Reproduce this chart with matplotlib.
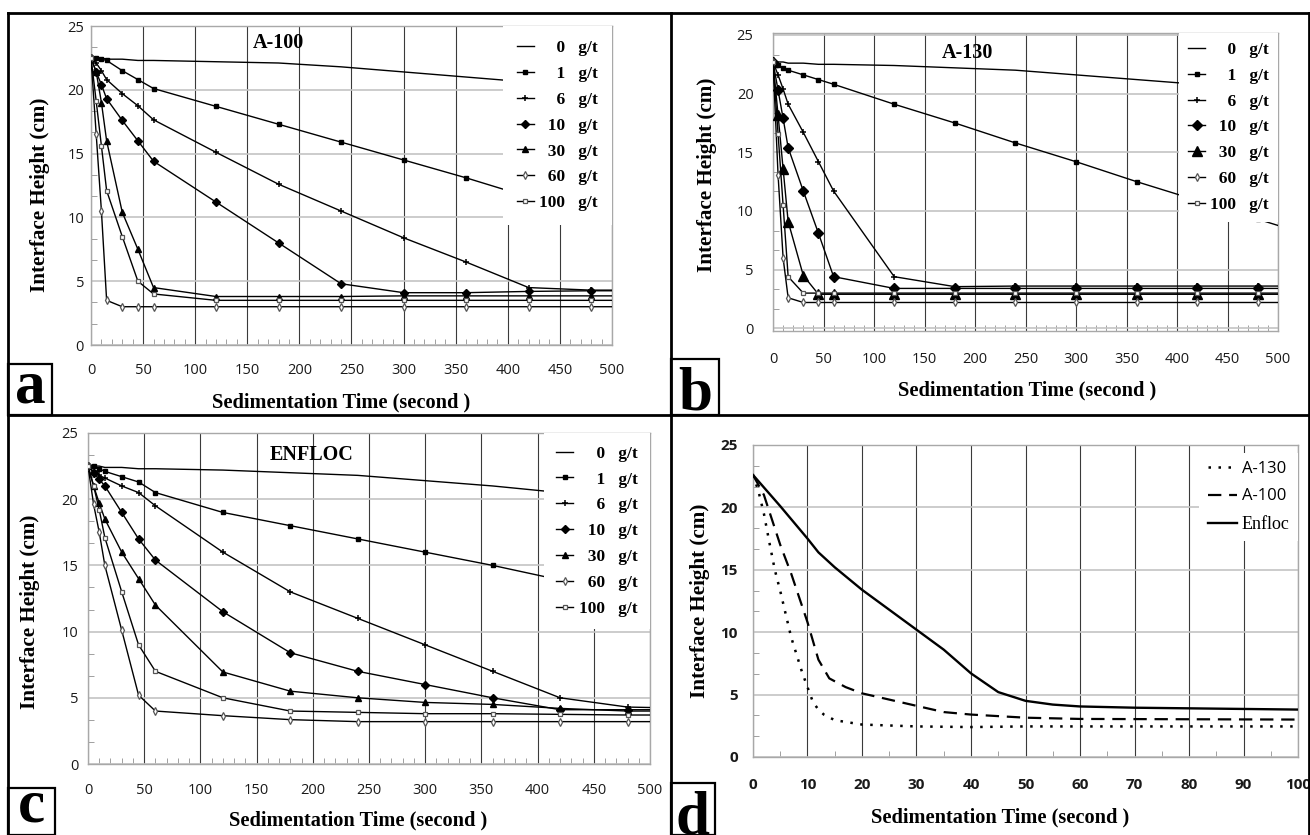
import matplotlib
matplotlib.use('Agg')
import matplotlib.pyplot as plt
from matplotlib.lines import Line2D
from matplotlib.patches import Rectangle
from matplotlib.ticker import MultipleLocator

# ---------------- data ----------------
T = [0, 5, 10, 15, 30, 45, 60, 120, 180, 240, 300, 360, 420, 480, 540]
doses = ['0', '1', '6', '10', '30', '60', '100']

# A-100
a_0 = [22.5, 22.5, 22.5, 22.4, 22.4, 22.3, 22.3, 22.2, 22.1, 21.8, 21.4, 21.0, 20.6, 20.3, 20.0]
a_1 = [22.5, 22.5, 22.4, 22.3, 21.5, 20.8, 20.1, 18.7, 17.3, 15.9, 14.5, 13.1, 11.6, 10.2, 8.8]
a_6 = [22.5, 22.1, 21.5, 20.8, 19.7, 18.75, 17.65, 15.1, 12.6, 10.5, 8.4, 6.5, 4.5, 4.3, 4.3]
a_10 = [22.5, 21.4, 20.4, 19.3, 17.6, 16.0, 14.4, 11.2, 8.0, 4.8, 4.1, 4.1, 4.2, 4.25, 4.25]
a_30 = [22.5, 21.4, 19.0, 16.0, 10.4, 7.5, 4.5, 3.8, 3.8, 3.8, 3.85, 3.85, 3.85, 3.85, 3.85]
a_60 = [22.5, 16.5, 10.5, 3.5, 3.0, 3.0, 3.0, 3.0, 3.0, 3.0, 3.0, 3.0, 3.0, 3.0, 3.0]
a_100 = [22.5, 19.1, 15.6, 12.1, 8.5, 5.0, 4.0, 3.5, 3.5, 3.5, 3.5, 3.5, 3.5, 3.5, 3.5]

# A-130
b_0 = [22.7, 22.7, 22.7, 22.6, 22.6, 22.5, 22.5, 22.4, 22.2, 22.0, 21.6, 21.2, 20.8, 20.4, 20.0]
b_1 = [22.7, 22.4, 22.2, 22.0, 21.6, 21.2, 20.8, 19.1, 17.5, 15.8, 14.2, 12.5, 10.9, 9.3, 7.7]
b_6 = [22.7, 21.6, 20.4, 19.1, 16.7, 14.2, 11.7, 4.4, 3.55, 3.6, 3.6, 3.6, 3.6, 3.6, 3.6]
b_10 = [22.7, 20.3, 17.9, 15.4, 11.7, 8.1, 4.4, 3.4, 3.4, 3.4, 3.4, 3.4, 3.4, 3.4, 3.4]
b_30 = [22.7, 18.2, 13.6, 9.1, 4.5, 2.9, 2.9, 2.9, 2.9, 2.9, 2.9, 2.9, 2.9, 2.9, 2.9]
b_60 = [22.7, 13.1, 6.0, 2.6, 2.2, 2.2, 2.2, 2.2, 2.2, 2.2, 2.2, 2.2, 2.2, 2.2, 2.2]
b_100 = [22.7, 16.6, 10.5, 4.4, 3.0, 3.0, 3.0, 3.0, 3.0, 3.0, 3.0, 3.0, 3.0, 3.0, 3.0]

# ENFLOC
c_0 = [22.5, 22.5, 22.5, 22.4, 22.4, 22.3, 22.3, 22.2, 22.0, 21.8, 21.4, 21.0, 20.5, 20.1, 19.7]
c_1 = [22.5, 22.5, 22.3, 22.1, 21.7, 21.3, 20.5, 19.0, 18.0, 17.0, 16.0, 15.0, 13.9, 12.8, 11.7]
c_6 = [22.5, 22.1, 21.8, 21.6, 21.0, 20.5, 19.5, 16.0, 13.0, 11.0, 9.0, 7.0, 5.0, 4.3, 4.2]
c_10 = [22.5, 22.0, 21.5, 21.0, 19.0, 17.0, 15.4, 11.5, 8.4, 7.0, 6.0, 5.0, 4.1, 4.1, 4.1]
c_30 = [22.5, 21.0, 19.7, 18.5, 16.0, 14.0, 12.0, 6.95, 5.5, 5.0, 4.65, 4.5, 4.2, 4.0, 4.0]
c_60 = [22.5, 19.6, 17.5, 15.0, 10.1, 5.2, 4.0, 3.65, 3.35, 3.2, 3.2, 3.2, 3.2, 3.2, 3.2]
c_100 = [22.5, 21.0, 19.2, 17.1, 13.0, 9.0, 7.0, 5.0, 4.0, 3.9, 3.8, 3.8, 3.75, 3.7, 3.7]

# comparison panel (d)
d_enfloc_t = [0, 5, 10, 12, 15, 20, 25, 30, 35, 40, 45, 50, 55, 60, 70, 80, 90, 100]
d_enfloc_h = [22.6, 20.1, 17.5, 16.4, 15.2, 13.4, 11.8, 10.2, 8.6, 6.7, 5.2, 4.5, 4.2, 4.05, 3.95, 3.9, 3.85, 3.8]
d_a100_t = [0, 2, 5, 7, 10, 12, 14, 17, 20, 25, 30, 35, 40, 50, 60, 100]
d_a100_h = [22.6, 21.0, 17.0, 14.7, 10.8, 7.8, 6.3, 5.6, 5.1, 4.6, 4.1, 3.6, 3.4, 3.15, 3.05, 3.0]
d_a130_t = [0, 1, 2, 3, 4, 5, 7, 9, 10, 11, 12, 13, 15, 20, 30, 40, 50, 100]
d_a130_h = [22.6, 21.3, 19.5, 17.2, 15.0, 13.3, 9.6, 6.8, 5.6, 4.4, 3.8, 3.4, 2.95, 2.6, 2.45, 2.4, 2.45, 2.45]

# ---------------- figure ----------------
W, H = 1310, 835
fig = plt.figure(figsize=(W / 100, H / 100), dpi=100)

SERIF = ['Liberation Serif', 'DejaVu Serif']
SANS = ['Open Sans', 'DejaVu Sans']


def ax_at(l, r, t, b):
    return fig.add_axes([l / W, 1 - b / H, (r - l) / W, (b - t) / H])


def ftext(x, y, s, **kw):
    fig.text(x / W, 1 - y / H, s, **kw)


def fline(x1, y1, x2, y2, lw=2.0):
    fig.add_artist(Line2D([x1 / W, x2 / W], [1 - y1 / H, 1 - y2 / H],
                          transform=fig.transFigure, color='black', lw=lw,
                          solid_capstyle='projecting'))


def styles(big=1.0):
    return [
        dict(marker=None),
        dict(marker='s', ms=3.3, mfc='black', mec='black'),
        dict(marker='+', ms=4.5, mew=1.1, mec='black'),
        dict(marker='D', ms=3.8 * big, mfc='black', mec='black'),
        dict(marker='^', ms=4.6 * big, mfc='black', mec='black'),
        dict(marker='d', ms=4.0, mfc='white', mec='#555555', mew=0.9),
        dict(marker='s', ms=3.3, mfc='white', mec='#555555', mew=0.9),
    ]


def style_axes(ax, xmax, xmaj, xmin, ylim, xpad, ypad, bold=False):
    ax.set_xlim(0, xmax)
    ax.set_ylim(*ylim)
    ax.xaxis.set_major_locator(MultipleLocator(xmaj))
    ax.xaxis.set_minor_locator(MultipleLocator(xmin))
    ax.yaxis.set_major_locator(MultipleLocator(5))
    ax.yaxis.set_minor_locator(MultipleLocator(5 / 3))
    ax.grid(True, axis='x', color='#3a3a3a', lw=0.8, zorder=0)
    ax.grid(True, axis='y', color='#c4c4c4', lw=1.2, zorder=0)
    ax.set_axisbelow(True)
    for sp in ax.spines.values():
        sp.set_color('#a8a8a8')
        sp.set_linewidth(1.0)
    ax.tick_params(which='both', direction='in', color='#909090')
    ax.tick_params(which='major', length=0)
    ax.tick_params(which='minor', length=4)
    ax.tick_params(axis='x', pad=xpad)
    ax.tick_params(axis='y', pad=ypad)
    for lab in ax.get_xticklabels() + ax.get_yticklabels():
        lab.set_fontfamily(SANS)
        lab.set_fontsize(11 if bold else 10.5)
        lab.set_fontweight('bold' if bold else 'normal')
        lab.set_color('#1a1a1a')


def dose_panel(ax, series, big, title, tx, ty, bpad):
    sts = styles(big)
    for h, st in zip(series, sts):
        ax.plot(T, h, color='black', lw=1.0, zorder=3, clip_on=True, **st)
    handles = [Line2D([], [], color='black', lw=1.0, **st) for st in sts]
    labels = [d.rjust(3).replace(' ', '\u2007') + '\u2007 g/t' for d in doses]
    leg = ax.legend(handles, labels, loc='upper right', bbox_to_anchor=(1.0, 1.0),
                    borderaxespad=0, frameon=True, fancybox=False,
                    edgecolor='none', facecolor='white', framealpha=1,
                    handlelength=1.0, handletextpad=0.3, labelspacing=0.56,
                    borderpad=bpad, numpoints=1,
                    prop=dict(family=SERIF, weight='bold', size=12.5))
    leg.set_zorder(5)
    ftext(tx, ty, title, family=SERIF, weight='bold', fontsize=14.5,
          ha='center', va='center')


# ---- panel a ----
axa = ax_at(91, 612, 26, 345)
dose_panel(axa, [a_0, a_1, a_6, a_10, a_30, a_60, a_100], 1.0, 'A-100', 278, 43, 0.8)
style_axes(axa, 500, 50, 10, (0, 25), 13, 5)

# ---- panel b ----
axb = ax_at(773, 1278, 33, 331)
dose_panel(axb, [b_0, b_1, b_6, b_10, b_30, b_60, b_100], 1.45, 'A-130', 967, 53, 0.5)
style_axes(axb, 500, 50, 10, (-0.23, 25.17), 15, 14)

# ---- panel c ----
axc = ax_at(88, 650, 433, 764)
dose_panel(axc, [c_0, c_1, c_6, c_10, c_30, c_60, c_100], 1.0, 'ENFLOC', 312, 455, 0.72)
style_axes(axc, 500, 50, 10, (0, 25), 13.5, 7)

# ---- panel d ----
axd = ax_at(753, 1298, 445, 757)
l1, = axd.plot(d_a130_t, d_a130_h, color='black', lw=1.8, ls=(0, (1, 3)), zorder=3)
l2, = axd.plot(d_a100_t, d_a100_h, color='black', lw=1.6, ls=(0, (6, 3.5)), zorder=3)
l3, = axd.plot(d_enfloc_t, d_enfloc_h, color='black', lw=1.7, zorder=3)
style_axes(axd, 100, 10, 5, (0, 25), 15, 11, bold=True)
legd = axd.legend([l1, l2, l3], ['A-130', 'A-100', 'Enfloc'], loc='upper right',
                  bbox_to_anchor=(1.0, 0.975), borderaxespad=0, frameon=True,
                  fancybox=False, edgecolor='none', facecolor='white', framealpha=1,
                  handlelength=1.75, handletextpad=0.3, labelspacing=0.68,
                  borderpad=0.5, prop=dict(family=SANS, size=12))
legd.get_texts()[2].set_fontfamily(SERIF)
legd.get_texts()[2].set_fontsize(13)
legd.set_zorder(5)

# ---- axis titles ----
xlab_kw = dict(family=SERIF, weight='bold', fontsize=14.7, ha='center', va='center')
ylab_kw = dict(family=SERIF, weight='bold', fontsize=15.2, ha='center', va='center',
               rotation=90)
ftext(341, 402, 'Sedimentation Time (second )', **xlab_kw)
ftext(1027, 390, 'Sedimentation Time (second )', **xlab_kw)
ftext(358, 820, 'Sedimentation Time (second )', **xlab_kw)
ftext(1000, 817, 'Sedimentation Time (second )', **xlab_kw)
ftext(40, 195, 'Interface Height (cm)', **ylab_kw)
ftext(707, 175, 'Interface Height (cm)', **ylab_kw)
ftext(30, 612, 'Interface Height (cm)', **ylab_kw)
ftext(700, 601, 'Interface Height (cm)', **ylab_kw)

# ---- panel frames ----
fline(8, 13, 1309, 13)
fline(8, 13, 8, 835)
fline(1309, 13, 1309, 835)
fline(671, 13, 671, 835)
fline(8, 415, 1309, 415)

# ---- panel letter boxes ----
boxes = [('a', 8, 364, 52, 415, 402), ('b', 671, 359, 719, 415, 410),
         ('c', 8, 788, 55, 835, 822), ('d', 671, 783, 715, 835, 834)]
for letter, x1, y1, x2, y2, base in boxes:
    fig.add_artist(Rectangle((x1 / W, 1 - y2 / H), (x2 - x1) / W, (y2 - y1) / H,
                             transform=fig.transFigure, fill=False,
                             edgecolor='black', lw=1.6))
    ftext((x1 + x2) / 2, base, letter, family=SERIF, weight='bold', fontsize=44,
          ha='center', va='baseline')

fig.savefig('out.png', dpi=100)
